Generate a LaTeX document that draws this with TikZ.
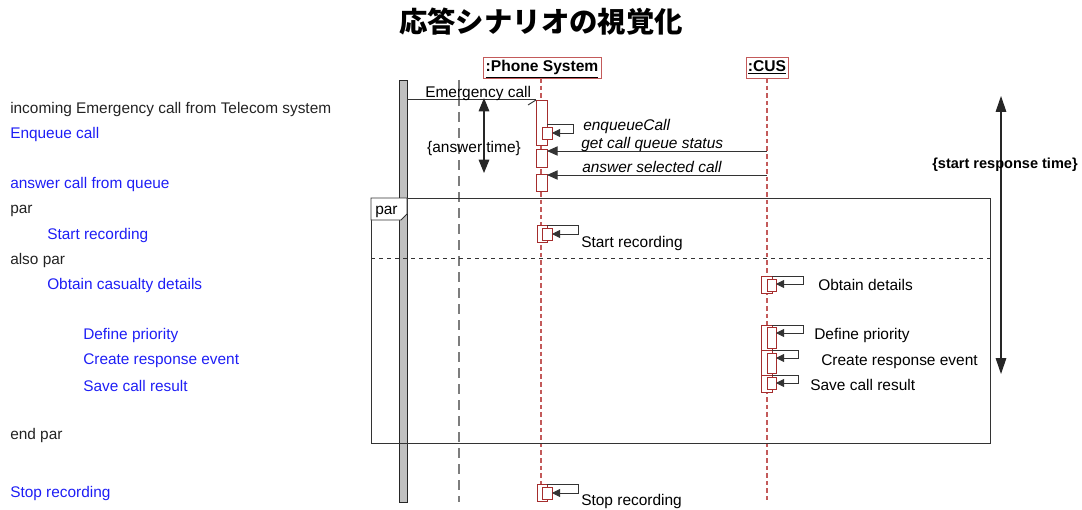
\documentclass[tikz,border=0pt]{standalone}
\usepackage{fontspec}
\setmainfont{Liberation Sans}
\newfontfamily\cjk{Noto Sans CJK JP}
\usetikzlibrary{arrows.meta}
\definecolor{lred}{RGB}{195,90,90}
\definecolor{dred}{RGB}{165,45,45}
\definecolor{txtblue}{RGB}{30,30,245}
\definecolor{txtblk}{RGB}{35,35,35}
\definecolor{bargray}{RGB}{192,192,192}
\definecolor{dgray}{RGB}{125,125,125}
\newcommand\mkact[6]{\node[#6,anchor=north west,minimum width=#4*0.75pt,minimum height=#5*0.75pt] (#1) at (#2,#3) {};}
\begin{document}
\begin{tikzpicture}[x=0.75pt,y=-0.75pt,
  lt/.style={anchor=west,inner sep=0pt,yshift=-2.2pt,font=\fontsize{11.55}{13}\selectfont},
  lblue/.style={lt,text=txtblue},
  lblack/.style={lt,text=txtblk},
  dl/.style={anchor=west,inner sep=0pt,yshift=-2.2pt,font=\fontsize{11.6}{13}\selectfont},
  dli/.style={dl,font=\fontsize{11.6}{13}\selectfont\itshape},
  act/.style={draw=dred,fill=white,line width=0.6pt,inner sep=0pt,outer sep=0pt},
  head/.style={draw=lred,line width=0.7pt,inner sep=0pt,outer sep=0pt,font=\fontsize{11.7}{13}\selectfont\bfseries},
  life/.style={lred,line width=0.9pt,dash pattern=on 3.5pt off 2.2pt},
  glife/.style={dgray,line width=1.3pt,dash pattern=on 7.5pt off 4.5pt},
  msg/.style={black!80,line width=0.7pt,-{Triangle[length=8pt,width=7pt]}},
  selfmsg/.style={black!80,line width=0.7pt,-{Triangle[length=6pt,width=6pt]}},
  dbl/.style={black!85,line width=0.8pt,{Triangle[length=10pt,width=8pt]}-{Triangle[length=10pt,width=8pt]}},
  frm/.style={draw=black!80,line width=0.7pt,inner sep=0pt,outer sep=0pt}
]
\useasboundingbox (0,0) rectangle (1082,510);

% title
\node[font=\cjk\bfseries\fontsize{21.3}{24}\selectfont] (title) at (541,22) {応答シナリオの視覚化};

% left script
\node[lblack] (l1) at (10,107) {incoming Emergency call from Telecom system};
\node[lblue] (l2) at (10,132) {Enqueue call};
\node[lblue] (l3) at (10,182) {answer call from queue};
\node[lblack] (l4) at (10,208) {par};
\node[lblue] (l5) at (47,233) {Start recording};
\node[lblack] (l6) at (10,258) {also par};
\node[lblue] (l7) at (47,283) {Obtain casualty details};
\node[lblue] (l8) at (83,333) {Define priority};
\node[lblue] (l9) at (83,358) {Create response event};
\node[lblue] (l10) at (83,383) {Save call result};
\node[lblack] (l11) at (10,433) {end par};
\node[lblue] (l12) at (10,491) {Stop recording};

% headers
\node[head,minimum width=118*0.75pt,minimum height=21*0.75pt,text depth=2pt] (ph) at (542,67.5) {\underline{:Phone System}};
\node[head,minimum width=42*0.75pt,minimum height=21*0.75pt,text depth=2pt] (cus) at (767,67.5) {\underline{:CUS}};

% system bar and gray lifeline
\node[draw=black!85,fill=bargray,line width=0.7pt,inner sep=0pt,outer sep=0pt,anchor=north west,minimum width=8*0.75pt,minimum height=422*0.75pt] (bar) at (399,80) {};
\coordinate (g1) at (459,80);
\coordinate (g2) at (459,502);
\draw[glife] (g1) -- (g2);

% lifelines
\coordinate (phend) at (541,484);
\coordinate (cusend) at (767,500);
\draw[life] (ph.south -| phend) -- (phend);
\draw[life] (cus.south) -- (cusend);

% par frame
\node[frm,anchor=north west,minimum width=619*0.75pt,minimum height=245*0.75pt] (parf) at (371,198) {};
\coordinate (sep) at (371,258);
\draw[black!80,line width=0.7pt,dashed] (sep) -- (sep -| parf.east);
\draw[frm,fill=white] (parf.north west) -- ++(36,0) -- ++(0,16) -- ++(-6,6) -- ++(-30,0) -- cycle;
\node[dl] (partab) at (375,209) {par};

% activations
\mkact{a1}{536}{100}{11}{45}{act}
\mkact{n1}{542}{127}{10}{12}{act}
\mkact{a2}{536}{149}{11}{18}{act}
\mkact{a3}{536}{174}{11}{17}{act}
\mkact{o4}{537}{225}{10}{17}{act}
\mkact{n4}{542}{228}{10}{12}{act}
\mkact{o5}{761}{276}{11}{17}{act}
\mkact{n5}{767}{279}{9}{12}{act}
\mkact{o6}{761}{325}{11}{25}{act}
\mkact{n6}{767}{327}{9}{21}{act}
\mkact{o7}{761}{350}{11}{25}{act}
\mkact{n7}{767}{353}{9}{20}{act}
\mkact{o8}{761}{375}{11}{17}{act}
\mkact{n8}{767}{377}{9}{12}{act}
\mkact{o9}{537}{484}{10}{17}{act}
\mkact{n9}{542}{487}{10}{12}{act}

% Emergency call
\coordinate (em) at (536,99);
\draw[black!80,line width=0.7pt] (em -| bar.east) -- (em);
\draw[black!80,line width=0.7pt] (528,105) -- (536,100);
\node[dl] (emlab) at (425,91) {Emergency call};

% enqueueCall self message
\coordinate (e1) at (573,124);
\coordinate (t1) at (573,133);
\draw[selfmsg] (e1 -| a1.east) -- (e1) -- (t1) -- (t1 -| n1.east);
\node[dli] (enq) at (583,124) {enqueueCall};

% messages from CUS
\coordinate (m2) at (767,151);
\coordinate (m3) at (767,175);
\draw[msg] (m2) -- (m2 -| a2.east);
\draw[msg] (m3) -- (m3 -| a3.east);
\node[dli] (gq) at (581,142) {get call queue status};
\node[dli] (as) at (582,164) {answer selected call};

% answer time
\coordinate (at1) at (484,98);
\coordinate (at2) at (484,173);
\draw[dbl] (at1) -- (at2);
\node[dl,anchor=center] (atl) at (474,146) {\{answer time\}};

% start response time
\coordinate (sr1) at (1001,96);
\coordinate (sr2) at (1001,374);
\draw[dbl,{Triangle[length=12pt,width=8pt]}-{Triangle[length=12pt,width=8pt]}] (sr1) -- (sr2);
\node[anchor=center,inner sep=0pt,yshift=-2.2pt,font=\fontsize{10.9}{13}\selectfont\bfseries] (srl) at (1005,162) {\{start response time\}};

% self messages
\coordinate (t4) at (578,234);
\draw[selfmsg] (o4.north east) -| (t4) -- (t4 -| n4.east);
\node[dl] (sr) at (581,241) {Start recording};

\coordinate (t5) at (803,284);
\draw[selfmsg] (o5.north east) -| (t5) -- (t5 -| n5.east);
\node[dl] (od) at (818,282) {Obtain details};

\coordinate (t6) at (803,333);
\draw[selfmsg] (o6.north east) -| (t6) -- (t6 -| n6.east);
\node[dl] (dp) at (814,333) {Define priority};

\coordinate (t7) at (798,358);
\draw[selfmsg] (o7.north east) -| (t7) -- (t7 -| n7.east);
\node[dl] (cr) at (821,359) {Create response event};

\coordinate (t8) at (798,383);
\draw[selfmsg] (o8.north east) -| (t8) -- (t8 -| n8.east);
\node[dl] (sc) at (810,382) {Save call result};

\coordinate (t9) at (578,493);
\draw[selfmsg] (o9.north east) -| (t9) -- (t9 -| n9.east);
\node[dl] (st) at (581,499) {Stop recording};
\end{tikzpicture}
\end{document}
